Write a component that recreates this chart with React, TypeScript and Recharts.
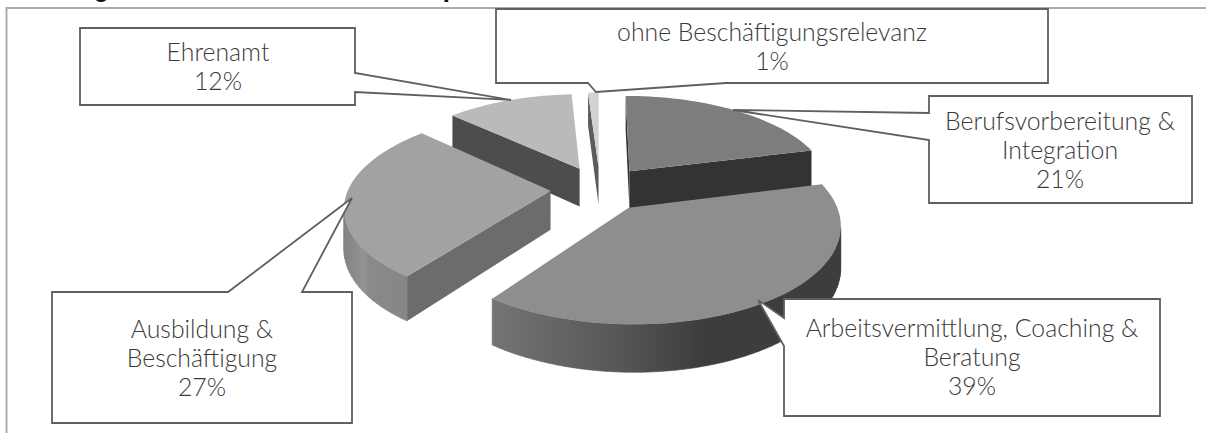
import React from "react";
import { PieChart, Pie } from "recharts";

const WIDTH = 1206;
const HEIGHT = 433;

// drawn back to front, so the list starts with Ehrenamt (clockwise order kept)
const names = [
  "Ehrenamt",
  "ohne Beschäftigungsrelevanz",
  "Berufsvorbereitung & Integration",
  "Arbeitsvermittlung, Coaching & Beratung",
  "Ausbildung & Beschäftigung",
];
const values = [12, 1, 21, 39, 27];
const labelLines = [
  ["Ehrenamt", "12%"],
  ["ohne Beschäftigungsrelevanz", "1%"],
  ["Berufsvorbereitung &", "Integration", "21%"],
  ["Arbeitsvermittlung, Coaching &", "Beratung", "39%"],
  ["Ausbildung &", "Beschäftigung", "27%"],
];

const data = names.map((name, i) => ({ name, value: values[i], idx: i }));

const topColors = ["#bababa", "#d2d2d2", "#7d7d7d", "#8e8e8e", "#a2a2a2"];
const wallColors = ["#4d4d4d", "#5c5c5c", "#333333", "#3d3d3d", "#6c6c6c"];
const rimStops = [
  [["0", "#4d4d4d"], ["1", "#4d4d4d"]],
  [["0", "#5c5c5c"], ["1", "#5c5c5c"]],
  [["0", "#333333"], ["1", "#333333"]],
  [["0", "#747474"], ["0.35", "#585858"], ["0.6", "#3d3d3d"], ["1", "#3d3d3d"]],
  [["0", "#828282"], ["0.25", "#939393"], ["0.32", "#8a8a8a"], ["1", "#858585"]],
];

// callout boxes: x, y, w, h and the pointer as three points on the box edge and tip
const boxes = [
  { x: 80, y: 28, w: 275, h: 77, ptr: [[355, 73], [511, 100], [355, 92]], textX: 218, textY: 61 },
  { x: 496, y: 9, w: 552, h: 74, ptr: [[726, 83], [596, 92], [588, 83]], textX: 772, textY: 41 },
  { x: 929, y: 96, w: 263, h: 107, ptr: [[929, 113], [733, 110], [929, 140]], textX: 1060, textY: 130 },
  { x: 784, y: 299, w: 376, h: 117, ptr: [[784, 318], [758, 300], [784, 346]], textX: 972, textY: 337 },
  { x: 52, y: 292, w: 300, h: 131, ptr: [[228, 292], [352, 198], [302, 292]], textX: 202, textY: 338 },
];

const EXPLODE = 0.245;
const SQUASH = 0.455;
const PERSPECTIVE = 0.155;
const DEPTH = 39;

const rad = (deg: number) => (deg * Math.PI) / 180;

// pie plane to screen, u to the right and v to the back, in radius units
const project = (u: number, v: number, cx: number, cy: number, r: number, down: boolean) => {
  const w = 1 + PERSPECTIVE * v;
  return {
    x: cx + (r * u) / w,
    y: cy - (r * SQUASH * v) / w + (down ? DEPTH / w : 0),
  };
};

const cross = (a: any, b: any, p: any) => (b.x - a.x) * (p.y - a.y) - (b.y - a.y) * (p.x - a.x);
const faces = (a: any, b: any, inner: any) =>
  cross(a, b, inner) * cross(a, b, { x: a.x, y: a.y + 1 }) < 0;
const toPath = (pts: any[]) =>
  pts.map((p, i) => `${i ? "L" : "M"}${p.x.toFixed(2)},${p.y.toFixed(2)}`).join(" ") + " Z";

const Slice3D = (props: any) => {
  const { cx, cy, outerRadius, startAngle, endAngle, payload } = props;
  const i = payload.idx ?? props.idx;
  const t0 = 90 - startAngle;
  const t1 = 90 - endAngle;
  const mid = rad((t0 + t1) / 2);
  const ou = Math.sin(mid) * EXPLODE;
  const ov = Math.cos(mid) * EXPLODE;
  const steps = Math.max(4, Math.ceil(Math.abs(t1 - t0) / 2));
  const angles = Array.from({ length: steps + 1 }, (_, k) => rad(t0 + ((t1 - t0) * k) / steps));
  const at = (a: number, down: boolean) =>
    project(ou + Math.sin(a), ov + Math.cos(a), cx, cy, outerRadius, down);
  const apex = project(ou, ov, cx, cy, outerRadius, false);
  const apexLow = project(ou, ov, cx, cy, outerRadius, true);
  const arc = angles.map((a) => at(a, false));
  const arcLow = angles.map((a) => at(a, true));
  const middle = arc[Math.floor(steps / 2)];

  const gradId = `rim-${i}`;
  const rimPaths: string[] = [];
  for (let k = 0; k < steps; k++) {
    if (faces(arc[k], arc[k + 1], apex)) {
      rimPaths.push(toPath([arc[k], arc[k + 1], arcLow[k + 1], arcLow[k]]));
    }
  }
  const xs = arc.map((p) => p.x);
  const first = arc[0];
  const last = arc[steps];

  return (
    <g>
      <defs>
        <linearGradient
          id={gradId}
          gradientUnits="userSpaceOnUse"
          x1={Math.min(...xs)}
          x2={Math.max(...xs)}
          y1={0}
          y2={0}
        >
          {rimStops[i].map(([o, c]) => (
            <stop key={o} offset={o} stopColor={c} />
          ))}
        </linearGradient>
      </defs>
      {rimPaths.length > 0 && (
        <path d={rimPaths.join(" ")} fill={`url(#${gradId})`} stroke={`url(#${gradId})`} strokeWidth={0.6} />
      )}
      {faces(apex, first, middle) && (
        <path d={toPath([apex, first, arcLow[0], apexLow])} fill={wallColors[i]} />
      )}
      {faces(apex, last, middle) && (
        <path d={toPath([apex, last, arcLow[steps], apexLow])} fill={wallColors[i]} />
      )}
      <path d={toPath([apex, ...arc])} fill={topColors[i]} />
    </g>
  );
};

const Callout = (props: any) => {
  const i = props.payload?.idx ?? props.idx ?? props.index;
  const b = boxes[i];
  const lines = labelLines[i];
  const right = b.x + b.w;
  const bottom = b.y + b.h;
  const [p0, tip, p1] = b.ptr;
  // walk round the box and put the pointer in on the edge it leaves from
  let pts: number[][];
  if (p0[0] === right) {
    pts = [[b.x, b.y], [right, b.y], p0, tip, p1, [right, bottom], [b.x, bottom]];
  } else if (p0[0] === b.x) {
    pts = [[b.x, b.y], [right, b.y], [right, bottom], [b.x, bottom], p1, tip, p0];
  } else if (p0[1] === b.y) {
    pts = [[b.x, b.y], p0, tip, p1, [right, b.y], [right, bottom], [b.x, bottom]];
  } else {
    pts = [[b.x, b.y], [right, b.y], [right, bottom], p0, tip, p1, [b.x, bottom]];
  }
  return (
    <g>
      <polygon
        points={pts.map((p) => p.join(",")).join(" ")}
        fill="#ffffff"
        stroke="#5f5f5f"
        strokeWidth={1.8}
      />
      <text
        x={b.textX}
        y={b.textY}
        textAnchor="middle"
        fontFamily="'Lato Light', Lato, 'Open Sans', sans-serif"
        fontWeight={300}
        fontSize={24.8}
        fill="#3a3a3a"
      >
        {lines.map((line, k) => (
          <tspan key={k} x={b.textX} dy={k === 0 ? 0 : 29}>
            {line}
          </tspan>
        ))}
      </text>
    </g>
  );
};

export default function App() {
  return (
    <div style={{ position: "absolute", left: 0, top: 0, width: WIDTH, height: HEIGHT, overflow: "hidden", background: "#fff" }}>
      <PieChart width={WIDTH} height={HEIGHT} margin={{ top: 0, right: 0, bottom: 0, left: 0 }}>
        <path d="M6.5,433 V8 H1206" fill="none" stroke="#ababab" strokeWidth={2} />
        <text x={94} y={-3} fontFamily="Roboto, sans-serif" fontWeight={700} fontSize={26} fill="#111">g</text>
        <text x={443} y={-3} fontFamily="Roboto, sans-serif" fontWeight={700} fontSize={26} fill="#111">p</text>
        <Pie
          data={data}
          dataKey="value"
          nameKey="name"
          cx={600}
          cy={188.5}
          innerRadius={0}
          outerRadius={202}
          startAngle={136.8}
          endAngle={-223.2}
          stroke="none"
          paddingAngle={0}
          shape={Slice3D}
          label={Callout}
          labelLine={false}
          isAnimationActive={false}
        />
      </PieChart>
    </div>
  );
}
